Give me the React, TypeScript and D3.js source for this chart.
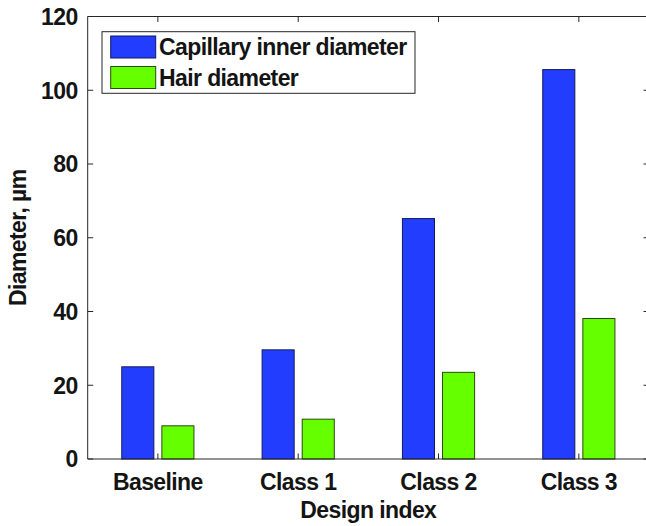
import React from "react";
import * as d3 from "d3";

const categories = ["Baseline", "Class 1", "Class 2", "Class 3"];
const seriesNames = ["Capillary inner diameter", "Hair diameter"];
const capillary = [25, 29.6, 65.2, 105.6];
const hair = [9, 10.8, 23.5, 38.1];
const yTicks = [0, 20, 40, 60, 80, 100, 120];
const colors = ["#233dff", "#66ff00"];
const edgeColors = ["#101a5a", "#2a4a10"];

const W = 646;
const H = 526;
const left = 87.7;
const right = 649;
const top = 16.5;
const bottom = 459;

export default function App() {
  const x = d3.scaleLinear().domain([0.5, 4.5]).range([left, right]);
  const y = d3.scaleLinear().domain([0, 120]).range([bottom, top]);
  const unit = x(1) - x(0);
  const barW = 0.2286 * unit;
  const offsets = [-0.1429, 0.1429];
  const series = [capillary, hair];
  const font = "'Liberation Sans', Arial, Helvetica, sans-serif";
  const axisColor = "#262626";
  const textColor = "#141414";
  const fs = 23;
  const ls = -0.6;

  return (
    <svg width={W} height={H} style={{ position: "absolute", left: 0, top: 0 }} fontFamily={font}>
      <rect x={0} y={0} width={W} height={H} fill="#fff" />
      {series.map((vals, si) =>
        vals.map((v, ci) => {
          const cx = x(ci + 1) + offsets[si] * unit;
          return (
            <rect
              key={`${si}-${ci}`}
              x={cx - barW / 2}
              y={y(v)}
              width={barW}
              height={y(0) - y(v)}
              fill={colors[si]}
              stroke={edgeColors[si]}
              strokeWidth={1}
            />
          );
        })
      )}
      <line x1={left} x2={right} y1={bottom} y2={bottom} stroke={axisColor} strokeWidth={1} />
      <line x1={left} x2={right} y1={top} y2={top} stroke={axisColor} strokeWidth={1} />
      <line x1={left} x2={left} y1={top} y2={bottom} stroke={axisColor} strokeWidth={1} />
      <line x1={right} x2={right} y1={top} y2={bottom} stroke={axisColor} strokeWidth={1} />
      {yTicks.map((t) => (
        <g key={t}>
          <line x1={left} x2={left + 5.5} y1={y(t)} y2={y(t)} stroke={axisColor} strokeWidth={1} />
          <line x1={right - 5.5} x2={right} y1={y(t)} y2={y(t)} stroke={axisColor} strokeWidth={1} />
          <text
            x={left - 10}
            y={y(t)}
            dy="0.36em"
            textAnchor="end"
            fontSize={fs}
            fontWeight="bold"
            letterSpacing={ls}
            fill={textColor}
          >
            {t}
          </text>
        </g>
      ))}
      {categories.map((c, i) => (
        <g key={c}>
          <line x1={x(i + 1)} x2={x(i + 1)} y1={bottom} y2={bottom - 5.5} stroke={axisColor} strokeWidth={1} />
          <line x1={x(i + 1)} x2={x(i + 1)} y1={top} y2={top + 5.5} stroke={axisColor} strokeWidth={1} />
          <text
            x={x(i + 1)}
            y={490}
            textAnchor="middle"
            fontSize={fs}
            fontWeight="bold"
            letterSpacing={ls}
            fill={textColor}
          >
            {c}
          </text>
        </g>
      ))}
      <text
        x={(left + right) / 2}
        y={518}
        textAnchor="middle"
        fontSize={fs}
        fontWeight="bold"
        letterSpacing={ls}
        fill={textColor}
      >
        Design index
      </text>
      <text
        transform={`translate(26,${(top + bottom) / 2}) rotate(-90)`}
        textAnchor="middle"
        fontSize={fs}
        fontWeight="bold"
        letterSpacing={ls}
        fill={textColor}
      >
        Diameter, µm
      </text>
      <rect x={102} y={31.7} width={313} height={61.6} fill="#fff" stroke={axisColor} strokeWidth={1} />
      {seriesNames.map((n, i) => (
        <g key={n}>
          <rect
            x={110.7}
            y={36 + i * 30.5}
            width={45}
            height={22}
            fill={colors[i]}
            stroke={edgeColors[i]}
            strokeWidth={1}
          />
          <text
            x={159}
            y={47 + i * 30.5}
            dy="0.36em"
            fontSize={fs}
            fontWeight="bold"
            letterSpacing={ls}
            fill={textColor}
          >
            {n}
          </text>
        </g>
      ))}
    </svg>
  );
}
